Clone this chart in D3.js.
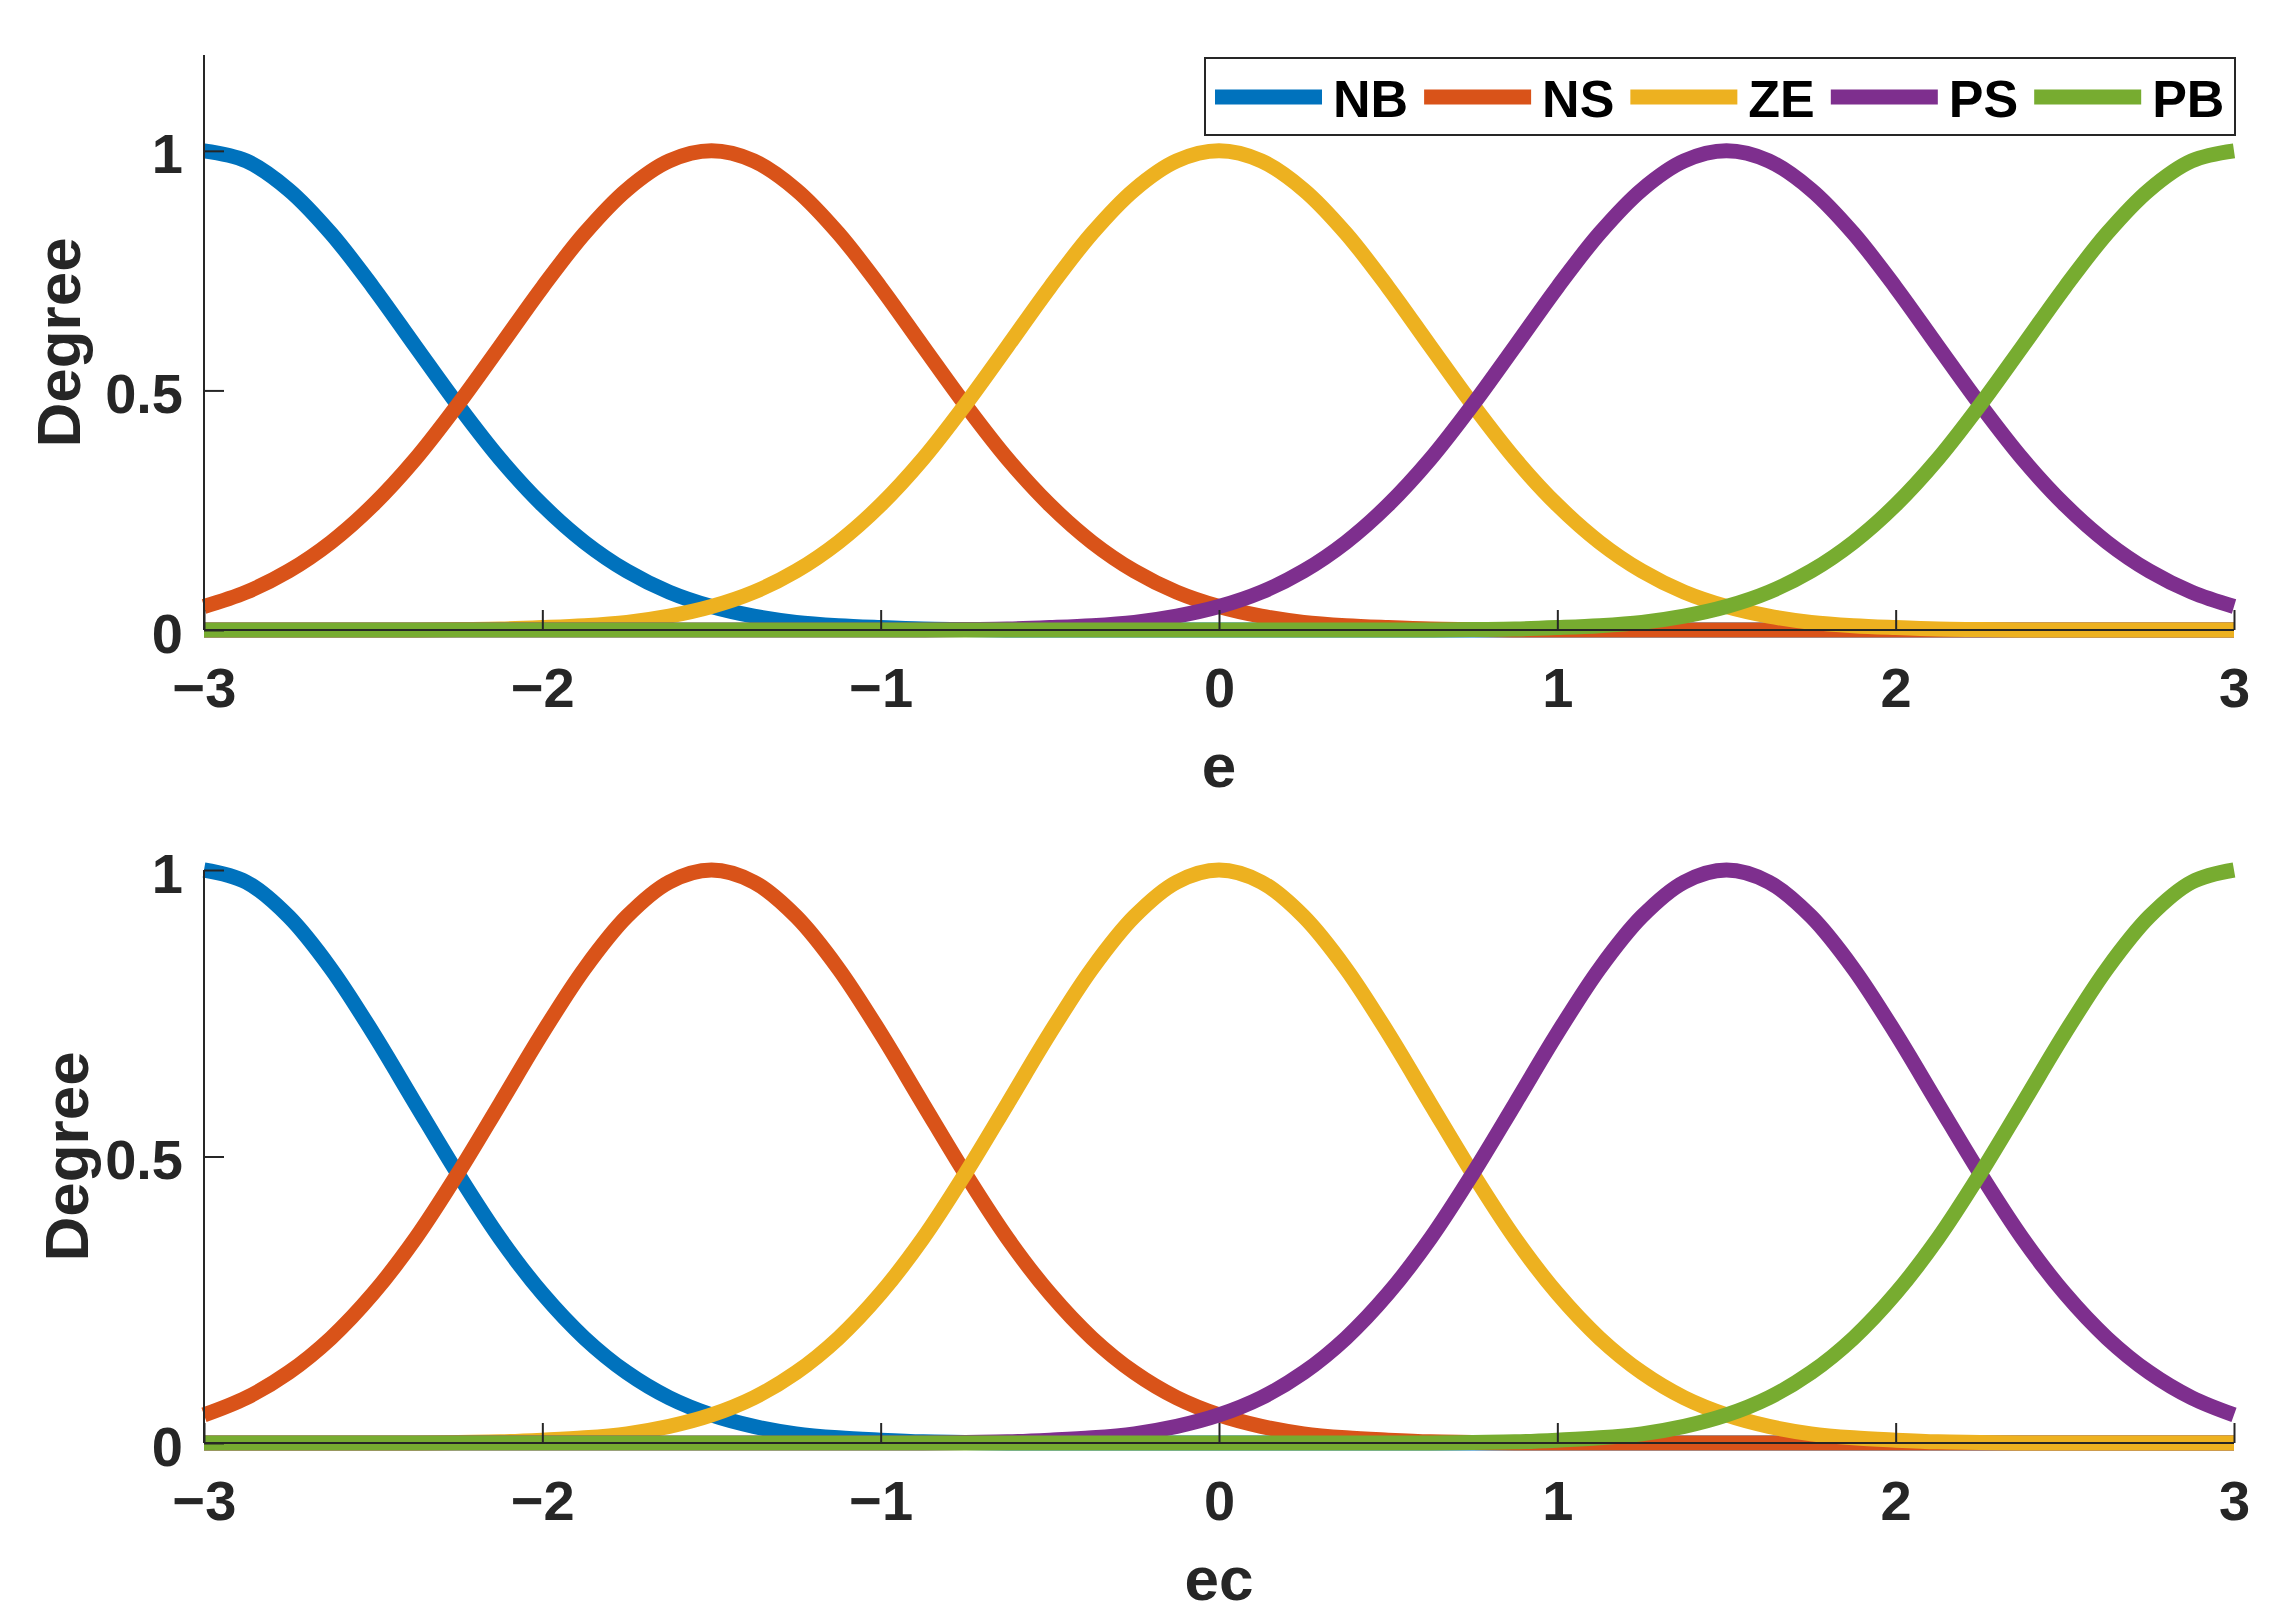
<!DOCTYPE html>
<html>
<head>
<meta charset="utf-8">
<script src="https://cdn.jsdelivr.net/npm/d3@7"></script>
<style>
  html, body { margin: 0; padding: 0; background: #fff; }
  svg { display: block; }
  text { font-family: "Liberation Sans", Arial, Helvetica, sans-serif; font-weight: bold; }
</style>
</head>
<body>
<svg id="chart" width="2292" height="1624"></svg>
<script>
// ---------------- data ----------------
const seriesNames = ["NB", "NS", "ZE", "PS", "PB"];
const seriesColors = ["#0072BD", "#D95319", "#EDB120", "#7E2F8E", "#77AC30"];

const xGrid = [-3, -2.875, -2.75, -2.625, -2.5, -2.375, -2.25, -2.125, -2, -1.875, -1.75, -1.625,
               -1.5, -1.375, -1.25, -1.125, -1, -0.875, -0.75, -0.625, -0.5, -0.375, -0.25, -0.125,
               0, 0.125, 0.25, 0.375, 0.5, 0.625, 0.75, 0.875, 1, 1.125, 1.25, 1.375,
               1.5, 1.625, 1.75, 1.875, 2, 2.125, 2.25, 2.375, 2.5, 2.625, 2.75, 2.875, 3];

// top panel (e)
const eNB = [1, 0.979, 0.919, 0.828, 0.715, 0.592, 0.470, 0.357, 0.261, 0.183, 0.123, 0.079,
             0.049, 0.029, 0.016, 0.009, 0.005, 0.002, 0.001, 0, 0, 0, 0, 0,
             0, 0, 0, 0, 0, 0, 0, 0, 0, 0, 0, 0,
             0, 0, 0, 0, 0, 0, 0, 0, 0, 0, 0, 0, 0];
const eNS = [0.049, 0.079, 0.123, 0.183, 0.261, 0.357, 0.470, 0.592, 0.715, 0.828, 0.919, 0.979,
             1, 0.979, 0.919, 0.828, 0.715, 0.592, 0.470, 0.357, 0.261, 0.183, 0.123, 0.079,
             0.049, 0.029, 0.016, 0.009, 0.005, 0.002, 0.001, 0, 0, 0, 0, 0,
             0, 0, 0, 0, 0, 0, 0, 0, 0, 0, 0, 0, 0];
const eZE = [0, 0, 0, 0, 0, 0, 0.001, 0.002, 0.005, 0.009, 0.016, 0.029,
             0.049, 0.079, 0.123, 0.183, 0.261, 0.357, 0.470, 0.592, 0.715, 0.828, 0.919, 0.979,
             1, 0.979, 0.919, 0.828, 0.715, 0.592, 0.470, 0.357, 0.261, 0.183, 0.123, 0.079,
             0.049, 0.029, 0.016, 0.009, 0.005, 0.002, 0.001, 0, 0, 0, 0, 0, 0];
const ePS = [0, 0, 0, 0, 0, 0, 0, 0, 0, 0, 0, 0,
             0, 0, 0, 0, 0, 0, 0.001, 0.002, 0.005, 0.009, 0.016, 0.029,
             0.049, 0.079, 0.123, 0.183, 0.261, 0.357, 0.470, 0.592, 0.715, 0.828, 0.919, 0.979,
             1, 0.979, 0.919, 0.828, 0.715, 0.592, 0.470, 0.357, 0.261, 0.183, 0.123, 0.079, 0.049];
const ePB = [0, 0, 0, 0, 0, 0, 0, 0, 0, 0, 0, 0,
             0, 0, 0, 0, 0, 0, 0, 0, 0, 0, 0, 0,
             0, 0, 0, 0, 0, 0, 0.001, 0.002, 0.005, 0.009, 0.016, 0.029,
             0.049, 0.079, 0.123, 0.183, 0.261, 0.357, 0.470, 0.592, 0.715, 0.828, 0.919, 0.979, 1];

// bottom panel (ec)
const ecNB = [1, 0.979, 0.919, 0.828, 0.715, 0.592, 0.470, 0.357, 0.261, 0.183, 0.123, 0.079,
              0.049, 0.029, 0.016, 0.009, 0.005, 0.002, 0.001, 0, 0, 0, 0, 0,
              0, 0, 0, 0, 0, 0, 0, 0, 0, 0, 0, 0,
              0, 0, 0, 0, 0, 0, 0, 0, 0, 0, 0, 0, 0];
const ecNS = [0.049, 0.079, 0.123, 0.183, 0.261, 0.357, 0.470, 0.592, 0.715, 0.828, 0.919, 0.979,
              1, 0.979, 0.919, 0.828, 0.715, 0.592, 0.470, 0.357, 0.261, 0.183, 0.123, 0.079,
              0.049, 0.029, 0.016, 0.009, 0.005, 0.002, 0.001, 0, 0, 0, 0, 0,
              0, 0, 0, 0, 0, 0, 0, 0, 0, 0, 0, 0, 0];
const ecZE = [0, 0, 0, 0, 0, 0, 0.001, 0.002, 0.005, 0.009, 0.016, 0.029,
              0.049, 0.079, 0.123, 0.183, 0.261, 0.357, 0.470, 0.592, 0.715, 0.828, 0.919, 0.979,
              1, 0.979, 0.919, 0.828, 0.715, 0.592, 0.470, 0.357, 0.261, 0.183, 0.123, 0.079,
              0.049, 0.029, 0.016, 0.009, 0.005, 0.002, 0.001, 0, 0, 0, 0, 0, 0];
const ecPS = [0, 0, 0, 0, 0, 0, 0, 0, 0, 0, 0, 0,
              0, 0, 0, 0, 0, 0, 0.001, 0.002, 0.005, 0.009, 0.016, 0.029,
              0.049, 0.079, 0.123, 0.183, 0.261, 0.357, 0.470, 0.592, 0.715, 0.828, 0.919, 0.979,
              1, 0.979, 0.919, 0.828, 0.715, 0.592, 0.470, 0.357, 0.261, 0.183, 0.123, 0.079, 0.049];
const ecPB = [0, 0, 0, 0, 0, 0, 0, 0, 0, 0, 0, 0,
              0, 0, 0, 0, 0, 0, 0, 0, 0, 0, 0, 0,
              0, 0, 0, 0, 0, 0, 0.001, 0.002, 0.005, 0.009, 0.016, 0.029,
              0.049, 0.079, 0.123, 0.183, 0.261, 0.357, 0.470, 0.592, 0.715, 0.828, 0.919, 0.979, 1];

const xTicks = [-3, -2, -1, 0, 1, 2, 3];
const yTicks = [0, 0.5, 1];
const xLabels = ["e", "ec"];
const yLabel = "Degree";

// ---------------- drawing ----------------
const svg = d3.select("#chart");
const axisColor = "#262626";
const fmtX = d => (d < 0 ? "\u2212" + Math.abs(d) : String(d));
const fmtY = d => String(d);

const panels = [
  { series: [eNB, eNS, eZE, ePS, ePB], yMax: 1.2, top: 55, bottom: 630, xLabel: xLabels[0], yLabelX: 80, legend: true },
  { series: [ecNB, ecNS, ecZE, ecPS, ecPB], yMax: 1.0, top: 870, bottom: 1443, xLabel: xLabels[1], yLabelX: 88, legend: false }
];

const left = 204, right = 2234;
const x = d3.scaleLinear().domain([-3, 3]).range([left, right]);

panels.forEach(p => {
  const y = d3.scaleLinear().domain([0, p.yMax]).range([p.bottom, p.top]);
  const g = svg.append("g");

  // lines
  const line = d3.line().x((d, i) => x(xGrid[i])).y(d => y(d)).curve(d3.curveCatmullRom.alpha(0.5));
  p.series.forEach((vals, k) => {
    g.append("path")
      .attr("d", line(vals))
      .attr("fill", "none")
      .attr("stroke", seriesColors[k])
      .attr("stroke-width", 15)
      .attr("stroke-linejoin", "round")
      .attr("stroke-linecap", "butt");
  });

  // x axis (ticks inward)
  const xAxis = d3.axisBottom(x).tickValues(xTicks).tickSize(-20).tickPadding(44).tickFormat(fmtX);
  const gx = g.append("g").attr("transform", `translate(0,${p.bottom})`).call(xAxis);
  gx.select(".domain").attr("stroke", axisColor).attr("stroke-width", 2)
    .attr("d", `M${left},0H${right}`);
  gx.selectAll(".tick line").attr("stroke", axisColor).attr("stroke-width", 2);
  gx.selectAll(".tick text").attr("fill", axisColor).attr("font-size", 56)
    .attr("dy", null).attr("y", 77);

  // y axis (ticks inward)
  const yAxis = d3.axisLeft(y).tickValues(yTicks).tickSize(-20).tickPadding(21).tickFormat(fmtY);
  const gy = g.append("g").attr("transform", `translate(${left},0)`).call(yAxis);
  gy.select(".domain").attr("stroke", axisColor).attr("stroke-width", 2)
    .attr("d", `M0,${p.top}V${p.bottom}`);
  gy.selectAll(".tick line").attr("stroke", axisColor).attr("stroke-width", 2);
  gy.selectAll(".tick text").attr("fill", axisColor).attr("font-size", 56)
    .attr("dy", null).attr("y", 22).attr("x", -21);
  gy.selectAll("text").attr("font-family", null);
  gx.selectAll("text").attr("font-family", null);

  // axis labels
  g.append("text")
    .attr("x", (left + right) / 2).attr("y", p.bottom + 157)
    .attr("text-anchor", "middle").attr("font-size", 62).attr("fill", axisColor)
    .text(p.xLabel);
  g.append("text")
    .attr("transform", `translate(${p.yLabelX},${(p.top + p.bottom) / 2}) rotate(-90)`)
    .attr("text-anchor", "middle").attr("font-size", 62).attr("fill", axisColor)
    .text(yLabel);

  // legend
  if (p.legend) {
    const lg = svg.append("g");
    const boxL = 1205, boxR = 2235, boxT = 58, boxB = 135;
    lg.append("rect").attr("x", boxL).attr("y", boxT).attr("width", boxR - boxL).attr("height", boxB - boxT)
      .attr("fill", "#fff").attr("stroke", axisColor).attr("stroke-width", 2);
    const lineLen = 107, gapLT = 11, gapTL = 16;
    let cx = 1215;
    const cy = 97;
    seriesNames.forEach((name, k) => {
      lg.append("line").attr("x1", cx).attr("x2", cx + lineLen).attr("y1", cy).attr("y2", cy)
        .attr("stroke", seriesColors[k]).attr("stroke-width", 15);
      const t = lg.append("text").attr("x", cx + lineLen + gapLT).attr("y", 117)
        .attr("font-size", 52).attr("fill", "#000").text(name);
      const w = t.node().getComputedTextLength();
      cx = cx + lineLen + gapLT + w + gapTL;
    });
  }
});
</script>
</body>
</html>
